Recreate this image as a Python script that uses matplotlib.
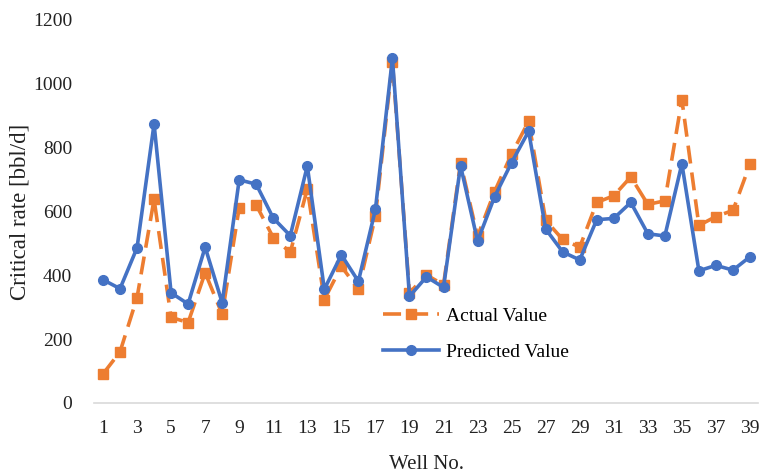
import numpy as np
import matplotlib
matplotlib.use("Agg")
import matplotlib.pyplot as plt

plt.rcParams['font.family'] = ['Liberation Serif', 'DejaVu Serif']

wells = np.arange(1, 40)
actual = [91, 160, 330, 638, 268, 252, 408, 278, 612, 620,
          518, 472, 670, 324, 428, 356, 585, 1068, 345, 401,
          370, 752, 522, 662, 780, 882, 572, 512, 488, 628,
          649, 708, 622, 633, 950, 556, 584, 603, 748]
predicted = [386, 358, 486, 874, 345, 310, 488, 314, 699, 685,
             579, 524, 742, 356, 464, 381, 606, 1080, 334, 395,
             362, 743, 507, 646, 753, 851, 545, 473, 448, 574,
             578, 628, 530, 523, 749, 414, 431, 416, 458]
xticks = list(range(1, 40, 2))

fig = plt.figure(figsize=(7.65, 4.76), dpi=100)
ax = fig.add_axes([0.1235, 0.1534, 0.868, 0.805])

ax.plot(wells, actual, color='#ED7D31', linewidth=2.6, linestyle=(0, (5, 2.5)),
        marker='s', markersize=7, label='Actual Value')
ax.plot(wells, predicted, color='#4472C4', linewidth=2.6,
        marker='o', markersize=7, label='Predicted Value')

ax.set_xlim(0.5, 39.5)
ax.set_ylim(0, 1200)
ax.set_yticks(range(0, 1201, 200))
ax.set_xticks(xticks)
ax.tick_params(axis='both', length=0, labelsize=14, colors='#222222')
ax.tick_params(axis='x', pad=12)
ax.tick_params(axis='y', pad=16)

for s in ['top', 'right', 'left']:
    ax.spines[s].set_visible(False)
ax.spines['bottom'].set_color('#d9d9d9')
ax.spines['bottom'].set_linewidth(1.2)

ax.set_ylabel('Critical rate [bbl/d]', fontsize=16.5, color='#222222', labelpad=2)
ax.set_xlabel('Well No.', fontsize=15, color='#222222', labelpad=13)

ax.legend(loc='upper left', bbox_to_anchor=(0.434, 0.25), frameon=False,
          borderpad=0, borderaxespad=0,
          fontsize=14, handlelength=2.9, handletextpad=0.35, labelspacing=0.95)

fig.savefig('out.png', dpi=100)
